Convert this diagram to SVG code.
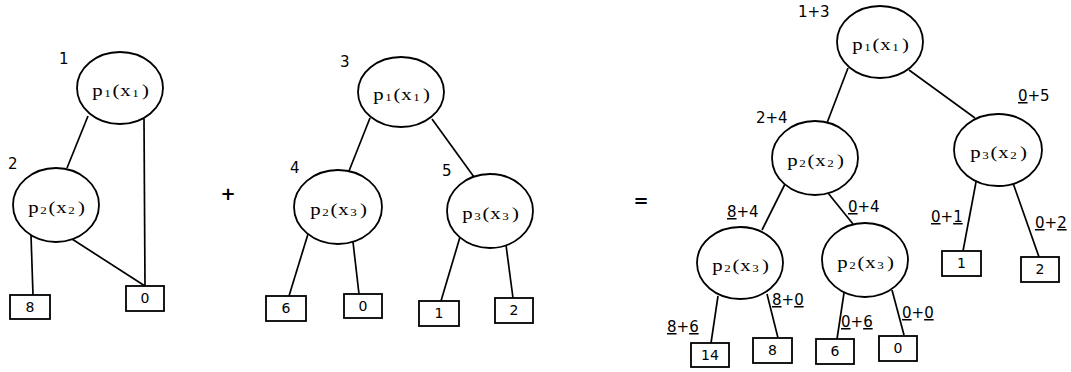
<svg xmlns="http://www.w3.org/2000/svg" width="1071" height="372" viewBox="0 0 1071 372">
<style>
ellipse{fill:#fff;stroke:#000;stroke-width:1.8}
rect{fill:#fff;stroke:#000;stroke-width:1.8}
line{stroke:#000;stroke-width:1.7}
.t{font-family:"Liberation Serif","DejaVu Serif",serif;font-size:16px;fill:#000;text-anchor:middle}
.s{font-size:10px}
.l{font-family:"DejaVu Sans","Liberation Sans",sans-serif;font-size:15px;fill:#000}
.b{font-family:"DejaVu Sans","Liberation Sans",sans-serif;font-size:14px;fill:#000;text-anchor:middle}
.op{font-family:"DejaVu Sans","Liberation Sans",sans-serif;font-size:18px;font-weight:bold;fill:#000;text-anchor:middle}
.u{text-decoration:underline}
</style>
<rect x="0" y="0" width="1071" height="372" style="fill:#fff;stroke:none"/>
<g id="connectors">
<line x1="88" y1="116" x2="67" y2="168"/>
<line x1="144" y1="119" x2="145" y2="286"/>
<line x1="31" y1="235" x2="33" y2="295"/>
<line x1="72" y1="239" x2="145" y2="286"/>
<line x1="370" y1="118" x2="349" y2="171"/>
<line x1="432" y1="119" x2="474" y2="177"/>
<line x1="308" y1="234" x2="289" y2="296"/>
<line x1="353" y1="242" x2="359" y2="294"/>
<line x1="460" y1="237" x2="441" y2="301"/>
<line x1="506" y1="245" x2="513" y2="298"/>
<line x1="848" y1="68" x2="827" y2="123"/>
<line x1="909" y1="70" x2="975" y2="118"/>
<line x1="785" y1="184" x2="762" y2="230"/>
<line x1="828" y1="193" x2="853" y2="224"/>
<line x1="976" y1="182" x2="963" y2="251"/>
<line x1="1013" y1="183" x2="1039" y2="257"/>
<line x1="718" y1="296" x2="711" y2="343"/>
<line x1="767" y1="294" x2="778" y2="338"/>
<line x1="844" y1="293" x2="837" y2="339"/>
<line x1="892" y1="290" x2="904" y2="335"/>
</g>
<g id="left-n1"><ellipse cx="120" cy="88" rx="43" ry="36"/>
<text class="t" transform="translate(91 96) scale(1.3 1)"><tspan x="5" y="0">p</tspan><tspan class="s" x="12.7" y="1">1</tspan><tspan x="19.2" y="0">(</tspan><tspan x="26.5" y="0">x</tspan><tspan class="s" x="34.2" y="1">1</tspan><tspan x="41.9" y="0">)</tspan></text>
<text class="l" x="59" y="64">1</text></g>
<g id="left-n2"><ellipse cx="56" cy="205" rx="43" ry="37"/>
<text class="t" transform="translate(27 213) scale(1.3 1)"><tspan x="5" y="0">p</tspan><tspan class="s" x="12.7" y="1">2</tspan><tspan x="19.2" y="0">(</tspan><tspan x="26.5" y="0">x</tspan><tspan class="s" x="34.2" y="1">2</tspan><tspan x="41.9" y="0">)</tspan></text>
<text class="l" x="8" y="169">2</text></g>
<g id="left-b8"><rect x="10" y="295" width="40" height="24"/><text class="b" x="30" y="312">8</text></g>
<g id="left-b0"><rect x="126" y="286" width="38" height="25"/><text class="b" x="145" y="303">0</text></g>
<text class="op" x="228" y="200">+</text>
<g id="mid-n3"><ellipse cx="401" cy="92" rx="43" ry="35"/>
<text class="t" transform="translate(372 100) scale(1.3 1)"><tspan x="5" y="0">p</tspan><tspan class="s" x="12.7" y="1">1</tspan><tspan x="19.2" y="0">(</tspan><tspan x="26.5" y="0">x</tspan><tspan class="s" x="34.2" y="1">1</tspan><tspan x="41.9" y="0">)</tspan></text>
<text class="l" x="340" y="67">3</text></g>
<g id="mid-n4"><ellipse cx="338" cy="207" rx="44" ry="37"/>
<text class="t" transform="translate(309 215) scale(1.3 1)"><tspan x="5" y="0">p</tspan><tspan class="s" x="12.7" y="1">2</tspan><tspan x="19.2" y="0">(</tspan><tspan x="26.5" y="0">x</tspan><tspan class="s" x="34.2" y="1">3</tspan><tspan x="41.9" y="0">)</tspan></text>
<text class="l" x="290" y="173">4</text></g>
<g id="mid-n5"><ellipse cx="490" cy="211" rx="43" ry="37"/>
<text class="t" transform="translate(461 219) scale(1.3 1)"><tspan x="5" y="0">p</tspan><tspan class="s" x="12.7" y="1">3</tspan><tspan x="19.2" y="0">(</tspan><tspan x="26.5" y="0">x</tspan><tspan class="s" x="34.2" y="1">3</tspan><tspan x="41.9" y="0">)</tspan></text>
<text class="l" x="442" y="176">5</text></g>
<g id="mid-b6"><rect x="266" y="296" width="40" height="25"/><text class="b" x="286" y="313">6</text></g>
<g id="mid-b0"><rect x="344" y="294" width="38" height="24"/><text class="b" x="363" y="311">0</text></g>
<g id="mid-b1"><rect x="419" y="301" width="40" height="25"/><text class="b" x="439" y="318">1</text></g>
<g id="mid-b2"><rect x="495" y="298" width="38" height="25"/><text class="b" x="514" y="315">2</text></g>
<text class="op" x="641" y="207">=</text>
<g id="r-n1"><ellipse cx="880" cy="42" rx="43" ry="36"/>
<text class="t" transform="translate(851 50) scale(1.3 1)"><tspan x="5" y="0">p</tspan><tspan class="s" x="12.7" y="1">1</tspan><tspan x="19.2" y="0">(</tspan><tspan x="26.5" y="0">x</tspan><tspan class="s" x="34.2" y="1">1</tspan><tspan x="41.9" y="0">)</tspan></text>
<text class="l" x="798" y="17">1+3</text></g>
<g id="r-n2"><ellipse cx="815" cy="158" rx="43" ry="37"/>
<text class="t" transform="translate(786 166) scale(1.3 1)"><tspan x="5" y="0">p</tspan><tspan class="s" x="12.7" y="1">2</tspan><tspan x="19.2" y="0">(</tspan><tspan x="26.5" y="0">x</tspan><tspan class="s" x="34.2" y="1">2</tspan><tspan x="41.9" y="0">)</tspan></text>
<text class="l" x="756" y="123">2+4</text></g>
<g id="r-n3"><ellipse cx="998" cy="150" rx="44" ry="36"/>
<text class="t" transform="translate(969 158) scale(1.3 1)"><tspan x="5" y="0">p</tspan><tspan class="s" x="12.7" y="1">3</tspan><tspan x="19.2" y="0">(</tspan><tspan x="26.5" y="0">x</tspan><tspan class="s" x="34.2" y="1">2</tspan><tspan x="41.9" y="0">)</tspan></text>
<text class="l" x="1018" y="101"><tspan class="u">0</tspan>+5</text></g>
<g id="r-n4"><ellipse cx="740" cy="263" rx="43" ry="36"/>
<text class="t" transform="translate(711 271) scale(1.3 1)"><tspan x="5" y="0">p</tspan><tspan class="s" x="12.7" y="1">2</tspan><tspan x="19.2" y="0">(</tspan><tspan x="26.5" y="0">x</tspan><tspan class="s" x="34.2" y="1">3</tspan><tspan x="41.9" y="0">)</tspan></text>
<text class="l" x="727" y="217"><tspan class="u">8</tspan>+4</text></g>
<g id="r-n5"><ellipse cx="865" cy="260" rx="43" ry="37"/>
<text class="t" transform="translate(836 268) scale(1.3 1)"><tspan x="5" y="0">p</tspan><tspan class="s" x="12.7" y="1">2</tspan><tspan x="19.2" y="0">(</tspan><tspan x="26.5" y="0">x</tspan><tspan class="s" x="34.2" y="1">3</tspan><tspan x="41.9" y="0">)</tspan></text>
<text class="l" x="848" y="212"><tspan class="u">0</tspan>+4</text></g>
<g id="r-b1"><rect x="942" y="251" width="39" height="25"/><text class="b" x="961.5" y="268">1</text>
<text class="l" x="931" y="222"><tspan class="u">0</tspan>+<tspan class="u">1</tspan></text></g>
<g id="r-b2"><rect x="1021" y="257" width="38" height="25"/><text class="b" x="1040" y="274">2</text>
<text class="l" x="1035" y="228"><tspan class="u">0</tspan>+<tspan class="u">2</tspan></text></g>
<g id="r-b14"><rect x="691" y="343" width="38" height="24"/><text class="b" x="710" y="360">14</text>
<text class="l" x="667" y="332"><tspan class="u">8</tspan>+<tspan class="u">6</tspan></text></g>
<g id="r-b8"><rect x="753" y="338" width="39" height="25"/><text class="b" x="772.5" y="355">8</text>
<text class="l" x="772" y="305"><tspan class="u">8</tspan>+<tspan class="u">0</tspan></text></g>
<g id="r-b6"><rect x="816" y="339" width="38" height="25"/><text class="b" x="835" y="356">6</text>
<text class="l" x="841" y="327"><tspan class="u">0</tspan>+<tspan class="u">6</tspan></text></g>
<g id="r-b0"><rect x="879" y="336" width="38" height="25"/><text class="b" x="898" y="353">0</text>
<text class="l" x="902" y="318"><tspan class="u">0</tspan>+<tspan class="u">0</tspan></text></g>
</svg>
